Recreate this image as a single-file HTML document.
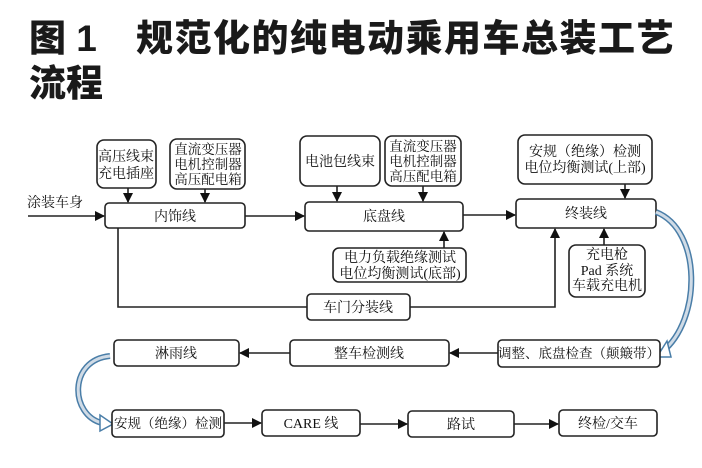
<!DOCTYPE html>
<html><head><meta charset="utf-8"><style>
body{margin:0;background:#fff;width:702px;height:468px;overflow:hidden;}
svg{display:block}
.t{font-family:"Liberation Serif","Noto Serif CJK SC","Noto Sans CJK SC",serif;font-size:14px;fill:#111;text-anchor:middle}
.s{font-size:13.5px}
.h{font-family:"Liberation Sans","Noto Sans CJK SC","WenQuanYi Zen Hei",sans-serif;font-size:37px;font-weight:900;fill:#1a1a1a}
rect{fill:#fff;stroke:#222;stroke-width:1.6}
.l{stroke:#222;stroke-width:1.6;fill:none}
</style></head><body>
<svg width="702" height="468" viewBox="0 0 702 468">
<defs><marker id="a" markerWidth="10" markerHeight="10" refX="9" refY="5" orient="auto" markerUnits="userSpaceOnUse"><path d="M0,0 L10,5 L0,10 z" fill="#111"/></marker></defs>
<text class="h" x="29" y="51">图 1</text>
<text class="h" x="136" y="51" letter-spacing="1.5">规范化的纯电动乘用车总装工艺</text>
<text class="h" x="29" y="96">流程</text>

<rect x="97" y="140" width="59" height="48" rx="7"/>
<text class="t" x="126" y="161">高压线束</text><text class="t" x="126" y="178">充电插座</text>
<rect x="170" y="139" width="75" height="50" rx="7"/>
<text class="t s" x="208" y="154">直流变压器</text><text class="t s" x="208" y="169">电机控制器</text><text class="t s" x="208" y="184">高压配电箱</text>
<rect x="300" y="136" width="80" height="50" rx="7"/>
<text class="t" x="340" y="166">电池包线束</text>
<rect x="385" y="136" width="76" height="50" rx="7"/>
<text class="t s" x="423" y="151">直流变压器</text><text class="t s" x="423" y="166">电机控制器</text><text class="t s" x="423" y="181">高压配电箱</text>
<rect x="518" y="135" width="134" height="49" rx="7"/>
<text class="t" x="585" y="156">安规（绝缘）检测</text><text class="t" x="585" y="172">电位均衡测试(上部)</text>

<rect x="105" y="203" width="140" height="25" rx="4"/><text class="t" x="175" y="221">内饰线</text>
<rect x="305" y="202" width="158" height="29" rx="4"/><text class="t" x="384" y="221">底盘线</text>
<rect x="516" y="199" width="140" height="29" rx="4"/><text class="t" x="586" y="218">终装线</text>
<text class="t" x="55" y="207">涂装车身</text>
<line class="l" x1="28" y1="216" x2="104" y2="216" marker-end="url(#a)"/>
<line class="l" x1="245" y1="216" x2="304" y2="216" marker-end="url(#a)"/>
<line class="l" x1="463" y1="215" x2="515" y2="215" marker-end="url(#a)"/>
<line class="l" x1="128" y1="188" x2="128" y2="202" marker-end="url(#a)"/>
<line class="l" x1="205" y1="189" x2="205" y2="202" marker-end="url(#a)"/>
<line class="l" x1="337" y1="186" x2="337" y2="201" marker-end="url(#a)"/>
<line class="l" x1="423" y1="186" x2="423" y2="201" marker-end="url(#a)"/>
<line class="l" x1="625" y1="184" x2="625" y2="198" marker-end="url(#a)"/>

<rect x="333" y="248" width="133" height="34" rx="6"/>
<text class="t" x="400" y="262">电力负载绝缘测试</text><text class="t" x="400" y="278">电位均衡测试(底部)</text>
<line class="l" x1="444" y1="248" x2="444" y2="232" marker-end="url(#a)"/>
<rect x="569" y="245" width="76" height="52" rx="7"/>
<text class="t" x="607" y="259">充电枪</text><text class="t" x="607" y="275">Pad 系统</text><text class="t" x="607" y="290">车载充电机</text>
<line class="l" x1="604" y1="245" x2="604" y2="229" marker-end="url(#a)"/>

<rect x="307" y="294" width="103" height="26" rx="4"/><text class="t" x="358" y="312">车门分装线</text>
<polyline class="l" points="118,228 118,307 307,307"/>
<polyline class="l" points="410,307 555,307 555,229" marker-end="url(#a)"/>

<path d="M656,212 C702,230 702,320 662,352" fill="none" stroke="#4a7ea8" stroke-width="6"/>
<path d="M656,212 C702,230 702,320 662,352" fill="none" stroke="#d0dbe6" stroke-width="3"/>
<path d="M657,357 L667,341 L671,357 z" fill="#fff" stroke="#4a7ea8" stroke-width="1.5"/>

<rect x="498" y="340" width="162" height="27" rx="4"/><text class="t s" x="579" y="358">调整、底盘检查（颠簸带）</text>
<rect x="290" y="340" width="159" height="26" rx="4"/><text class="t" x="369" y="358">整车检测线</text>
<rect x="114" y="340" width="125" height="26" rx="4"/><text class="t" x="176" y="358">淋雨线</text>
<line class="l" x1="498" y1="353" x2="450" y2="353" marker-end="url(#a)"/>
<line class="l" x1="290" y1="353" x2="240" y2="353" marker-end="url(#a)"/>

<path d="M110,356 C68,360 70,415 102,423" fill="none" stroke="#4a7ea8" stroke-width="6"/>
<path d="M110,356 C68,360 70,415 102,423" fill="none" stroke="#d0dbe6" stroke-width="3"/>
<path d="M113,424 L100,415 L100,431 z" fill="#fff" stroke="#4a7ea8" stroke-width="1.5"/>

<rect x="112" y="410" width="112" height="27" rx="4"/><text class="t s" x="168" y="428">安规（绝缘）检测</text>
<rect x="262" y="410" width="98" height="26" rx="4"/><text class="t" x="311" y="428">CARE 线</text>
<rect x="408" y="411" width="106" height="26" rx="4"/><text class="t" x="461" y="429">路试</text>
<rect x="559" y="410" width="98" height="26" rx="4"/><text class="t" x="608" y="428">终检/交车</text>
<line class="l" x1="224" y1="423" x2="261" y2="423" marker-end="url(#a)"/>
<line class="l" x1="360" y1="424" x2="407" y2="424" marker-end="url(#a)"/>
<line class="l" x1="514" y1="424" x2="558" y2="424" marker-end="url(#a)"/>
</svg>
</body></html>
